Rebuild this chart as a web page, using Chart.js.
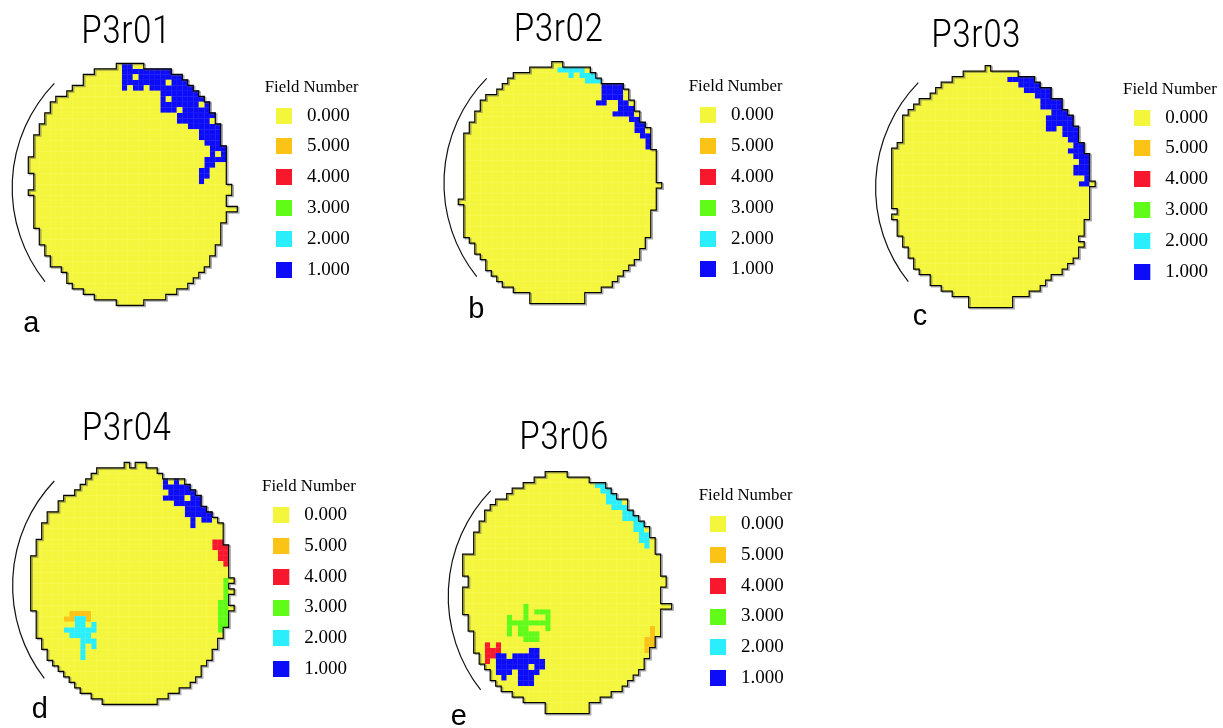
<!DOCTYPE html>
<html><head><meta charset="utf-8">
<script src="https://cdn.jsdelivr.net/npm/chart.js@4.4.1/dist/chart.umd.min.js"></script>
<style>
html,body{margin:0;padding:0;background:#fff;overflow:hidden;}
#wrap{position:relative;width:1223px;height:728px;overflow:hidden;background:#fff;}
#wrap canvas{position:absolute;}
</style></head><body><div id="wrap"></div>
<script>
// ---------- DATA ----------
const fieldLabels = ['0.000','5.000','4.000','3.000','2.000','1.000'];
const fieldValues = [0,5,4,3,2,1];
const fieldColors = {0:'#f4f63c',1:'#0c0cf8',2:'#2aeefb',3:'#60fb16',4:'#f8182e',5:'#fbc316'};
const panelTitles = ['P3r01','P3r02','P3r03','P3r04','P3r06'];
const panelLetters = ['a','b','c','d','e'];

// each map row: first and last occupied column
const rowStartA = [16,12,10,10,8,7,5,4,4,3,3,2,2,1,1,1,1,0,0,0,1,1,1,0,1,1,1,1,1,1,2,2,2,3,3,4,4,6,7,7,8,10,12,16];
const rowEndA   = [20,25,27,28,29,30,31,32,32,33,33,34,34,34,34,35,35,35,35,35,35,35,36,36,35,35,37,35,35,34,34,34,34,33,33,32,32,31,30,29,28,26,24,20];
// [row, firstCol, lastCol, field]
const patchesA = [[0,17,18,1],[1,17,25,1],[2,17,18,1],[2,20,27,1],[3,17,24,1],[3,26,28,1],[4,17,17,1],[4,19,20,1],[4,22,29,1],[5,24,30,1],[6,24,24,1],[6,26,31,1],[7,24,30,1],[7,32,32,1],[8,24,26,1],[8,28,32,1],[9,27,33,1],[10,27,32,1],[11,29,34,1],[12,31,34,1],[13,31,34,1],[14,32,34,1],[15,33,35,1],[16,33,33,1],[16,35,35,1],[17,32,35,1],[18,32,33,1],[19,31,32,1],[20,31,32,1],[21,31,31,1]];
const gapsA = [];

const rowStartB = [17,13,10,9,8,7,5,4,4,3,3,2,2,1,1,1,1,1,1,1,1,1,1,1,1,0,1,1,1,1,1,1,2,3,3,4,5,5,6,7,8,10,13,13];
const rowEndB   = [18,23,24,25,29,30,30,31,31,32,32,33,34,34,34,34,35,35,35,35,35,35,36,35,35,35,35,34,34,34,34,34,33,33,32,32,31,30,29,28,27,25,22,22];
const patchesB = [[1,18,22,2],[2,20,20,2],[2,22,24,2],[3,23,25,2],[4,26,29,1],[5,26,29,1],[6,26,29,1],[7,25,26,1],[7,29,30,1],[8,29,31,1],[9,28,31,1],[10,31,32,1],[11,32,33,1],[12,32,33,1],[13,33,34,1],[14,34,34,1],[15,34,34,1]];
const gapsB = [];

const rowStartC = [17,13,11,9,8,7,5,4,3,2,2,2,2,2,1,0,0,0,0,0,0,0,0,0,0,0,1,0,1,1,1,2,2,3,3,4,4,5,7,7,9,11,14,14];
const rowEndC   = [17,22,25,26,28,28,30,30,31,32,32,33,33,33,34,34,35,35,35,35,35,36,35,35,35,35,35,35,34,34,34,33,34,33,33,32,31,30,28,27,26,24,21,21];
const patchesC = [[2,21,25,1],[3,23,26,1],[4,24,28,1],[5,26,28,1],[6,27,30,1],[7,27,30,1],[8,29,31,1],[9,28,32,1],[10,28,32,1],[11,28,29,1],[11,31,33,1],[12,31,33,1],[13,32,33,1],[14,33,34,1],[15,32,34,1],[16,33,35,1],[17,34,35,1],[18,33,35,1],[19,33,35,1],[20,35,35,1],[21,34,35,1]];
const gapsC = [];

const rowStartD = [17,12,11,10,9,8,6,5,5,3,3,2,2,2,1,1,1,0,0,0,0,0,0,0,0,0,0,1,1,1,1,1,2,2,3,3,4,5,6,7,8,9,11,13];
const rowEndD   = [20,22,23,27,28,29,30,30,31,32,33,34,34,34,34,35,35,35,35,35,35,36,35,36,35,35,36,35,35,35,34,34,33,33,32,32,31,30,30,29,28,26,24,22];
const patchesD = [[3,24,24,1],[3,26,26,1],[4,24,28,1],[5,25,29,1],[6,24,27,1],[6,29,30,1],[7,26,30,1],[8,28,31,1],[9,28,32,1],[10,29,29,1],[10,31,32,1],[11,29,29,1],
  [14,33,34,4],[15,33,35,4],[16,34,35,4],[17,34,35,4],[18,35,35,4],
  [21,35,35,3],[22,35,35,3],[23,35,35,3],[24,35,35,3],[25,34,35,3],[26,34,35,3],[27,34,35,3],[28,34,35,3],[29,34,35,3],[30,34,34,3],
  [27,7,10,5],[28,6,7,5],[28,10,10,5],
  [28,8,9,2],[29,8,9,2],[29,11,11,2],[30,6,11,2],[31,7,10,2],[32,9,11,2],[33,9,9,2],[33,11,11,2],[34,9,9,2],[35,9,9,2]];
const gapsD = [[0,18,18]];

const rowStartE = [15,13,11,9,8,6,5,4,4,3,3,2,2,2,2,0,0,0,0,1,1,0,0,0,0,0,1,1,1,2,2,2,2,3,3,4,5,5,6,7,9,11,15,15];
const rowEndE   = [18,22,25,26,27,29,29,30,31,32,33,33,34,34,34,35,35,35,35,36,36,35,35,35,37,35,35,35,35,35,34,34,33,33,32,32,31,30,29,28,26,24,22,22];
const patchesE = [[2,24,25,2],[3,25,26,2],[4,26,27,2],[5,26,28,2],[6,27,29,2],[7,29,30,2],[8,29,31,2],[9,31,32,2],[10,31,32,2],[11,32,33,2],[12,32,33,2],[13,33,33,2],
  [24,11,11,3],[25,11,11,3],[25,13,15,3],[26,8,8,3],[26,11,11,3],[26,15,15,3],[27,8,15,3],[28,8,8,3],[28,10,11,3],[28,15,15,3],[29,8,8,3],[29,10,13,3],[30,11,13,3],
  [31,4,4,4],[31,6,6,4],[32,4,6,4],[33,4,5,4],[34,4,4,4],
  [32,12,13,1],[33,6,7,1],[33,9,13,1],[34,6,14,1],[35,6,11,1],[35,13,14,1],[36,6,8,1],[36,10,13,1],[37,7,7,1],[37,10,12,1],[38,10,12,1],
  [28,34,34,5],[29,34,34,5],[30,33,34,5],[31,33,34,5],[32,33,33,5]];
const gapsE = [];

// ---------- LAYOUT (page pixels / grid units) ----------
const CELL = 5.5;
const panelLayout = [
  {ox:28.3, oy:63.3, tx:126, ty:33.5, lx:276, ly:87.5, y0:0, h:350, letterAt:[-0.91,48.85], arc:[[4.73,3.64],[-2.91,21.53],[3.04,39.71]]},
  {ox:458.3, oy:61.7, tx:558.3, ty:31.5, lx:700, ly:87, y0:0, h:350, letterAt:[1.82,46.65], arc:[[5.16,3.02],[-2.6,21.5],[3.35,39.09]]},
  {ox:891.7, oy:65.7, tx:976, ty:37, lx:1134.3, ly:89.5, y0:0, h:350, letterAt:[3.82,47.15], arc:[[4.84,3.09],[-2.91,21.09],[3.02,39.27]]},
  {ox:30.7, oy:462.3, tx:126.7, ty:430.5, lx:273.3, ly:486.8, y0:390, h:338, letterAt:[0.18,46.5], arc:[[4.29,3.4],[-3.27,21.4],[2.47,39.27]]},
  {ox:462.7, oy:471.7, tx:563.8, ty:439.3, lx:710, ly:495.8, y0:390, h:338, letterAt:[-2.18,46.05], arc:[[5.09,3.45],[-2.62,23.33],[3.27,39.69]]}
];
const panelData = [
  [rowStartA,rowEndA,patchesA,gapsA],[rowStartB,rowEndB,patchesB,gapsB],[rowStartC,rowEndC,patchesC,gapsC],
  [rowStartD,rowEndD,patchesD,gapsD],[rowStartE,rowEndE,patchesE,gapsE]
];

const TITLE_FONT = "'Roboto Condensed', 'Liberation Sans Narrow', 'Liberation Sans', Arial, sans-serif";
const TITLE_SIZE = 39;
const SERIF = "'Liberation Serif', 'Times New Roman', serif";
const LEG_FONT = 19, LEG_PAD = 11.87, LEG_W = 94, LEG_TITLE = 16.8, BOX_W = 21;

// legend swatches: 16x16 square at the left of a 22px-wide transparent image
const swatches = fieldValues.map(v => {
  const c = document.createElement('canvas'); c.width = 22; c.height = 16;
  const x = c.getContext('2d'); x.fillStyle = fieldColors[v]; x.fillRect(0,0,16,16); return c;
});

function buildGrid(rs, re, patches, gaps){
  const cols = Math.max(...re) + 2;
  const g = rs.map((s,r) => { const row = new Array(cols).fill(-1); for(let c=s;c<=re[r];c++) row[c]=0; return row; });
  patches.forEach(([r,a,b,f]) => { for(let c=a;c<=b;c++) g[r][c]=f; });
  gaps.forEach(([r,a,b]) => { for(let c=a;c<=b;c++) g[r][c]=-1; });
  return g;
}

function circ(p1,p2,p3){
  const [ax,ay]=p1,[bx,by]=p2,[cx,cy]=p3;
  const d = 2*(ax*(by-cy)+bx*(cy-ay)+cx*(ay-by));
  const ux = ((ax*ax+ay*ay)*(by-cy)+(bx*bx+by*by)*(cy-ay)+(cx*cx+cy*cy)*(ay-by))/d;
  const uy = ((ax*ax+ay*ay)*(cx-bx)+(bx*bx+by*by)*(ax-cx)+(cx*cx+cy*cy)*(bx-ax))/d;
  return [ux,uy,Math.hypot(ax-ux,ay-uy)];
}

const wrap = document.getElementById('wrap');
panelLayout.forEach((L, i) => {
  const [rs, re, patches, gaps] = panelData[i];
  const grid = buildGrid(rs, re, patches, gaps);
  const legLeft = L.lx - LEG_PAD + (11 - BOX_W/2);
  const legRight = legLeft + LEG_W;
  const X0 = Math.round(2*L.tx - legRight);
  const W = Math.ceil(legRight - X0 + 6);
  const padR = X0 + W - legRight;
  const oxC = L.ox - X0, oyC = L.oy - L.y0;

  const canvas = document.createElement('canvas');
  canvas.width = W; canvas.height = L.h;
  canvas.style.left = X0 + 'px'; canvas.style.top = L.y0 + 'px';
  canvas.style.width = W + 'px'; canvas.style.height = L.h + 'px';
  wrap.appendChild(canvas);

  const datasets = [0,1,2,3,4,5].map(f => {
    const pts = [];
    grid.forEach((row, r) => row.forEach((v, c) => { if (v === f) pts.push({x: c + 0.5, y: r + 0.5}); }));
    return {label: 'Field ' + f, data: pts, pointStyle: 'rect', pointRadius: 4.08, pointHoverRadius: 4.08,
      pointBorderWidth: 0, backgroundColor: fieldColors[f], borderColor: fieldColors[f], showLine: false, clip: false};
  });

  const filled = (r, c) => r >= 0 && r < grid.length && c >= 0 && c < grid[r].length && grid[r][c] >= 0;

  const decor = {
    id: 'decor' + i,
    afterLayout(chart){
      const ca = chart.chartArea, xs = chart.scales.x, ys = chart.scales.y;
      xs.min = (ca.left - oxC) / CELL; xs.max = (ca.right - oxC) / CELL; xs.configure();
      ys.min = (ca.top - oyC) / CELL; ys.max = (ca.bottom - oyC) / CELL; ys.configure();
    },
    afterDatasetsDraw(chart){
      const ctx = chart.ctx, xs = chart.scales.x, ys = chart.scales.y;
      const X = c => xs.getPixelForValue(c), Y = r => ys.getPixelForValue(r);
      const edges = (dx, dy, color, w) => {
        ctx.beginPath();
        for (let r = 0; r < grid.length; r++) for (let c = 0; c < grid[r].length; c++) {
          if (!filled(r, c)) continue;
          if (!filled(r-1, c)) { ctx.moveTo(X(c)+dx, Y(r)+dy); ctx.lineTo(X(c+1)+dx, Y(r)+dy); }
          if (!filled(r+1, c)) { ctx.moveTo(X(c)+dx, Y(r+1)+dy); ctx.lineTo(X(c+1)+dx, Y(r+1)+dy); }
          if (!filled(r, c-1)) { ctx.moveTo(X(c)+dx, Y(r)+dy); ctx.lineTo(X(c)+dx, Y(r+1)+dy); }
          if (!filled(r, c+1)) { ctx.moveTo(X(c+1)+dx, Y(r)+dy); ctx.lineTo(X(c+1)+dx, Y(r+1)+dy); }
        }
        ctx.strokeStyle = color; ctx.lineWidth = w; ctx.lineCap = 'square'; ctx.stroke();
      };
      ctx.save();
      edges(1.5, 1.2, 'rgba(90,90,90,0.5)', 1.4);
      edges(0, 0, '#000', 1.2);
      ctx.restore();
    },
    afterDraw(chart){
      const ctx = chart.ctx, xs = chart.scales.x, ys = chart.scales.y;
      const P = p => [xs.getPixelForValue(p[0]), ys.getPixelForValue(p[1])];
      const a = P(L.arc[0]), b = P(L.arc[1]), c = P(L.arc[2]);
      const [cx, cy, R] = circ(a, b, c);
      let aTop = Math.atan2(a[1]-cy, a[0]-cx), aBot = Math.atan2(c[1]-cy, c[0]-cx);
      if (aTop < aBot) aTop += Math.PI*2;
      ctx.save();
      ctx.beginPath(); ctx.arc(cx, cy, R, aBot, aTop, false);
      ctx.strokeStyle = '#111'; ctx.lineWidth = 1.2; ctx.stroke();
      ctx.fillStyle = '#000'; ctx.font = "29px 'Liberation Sans', Arial, sans-serif";
      ctx.textBaseline = 'alphabetic'; ctx.textAlign = 'left';
      const lp = P(L.letterAt);
      ctx.fillText(panelLetters[i], lp[0], lp[1]);
      ctx.restore();
    }
  };

  new Chart(canvas, {
    type: 'scatter',
    data: {datasets},
    options: {
      responsive: false, animation: false, devicePixelRatio: 1, events: [],
      layout: {padding: {left: 0, right: padR, top: 0, bottom: 0}},
      scales: {
        x: {type: 'linear', display: false},
        y: {type: 'linear', display: false, reverse: true}
      },
      plugins: {
        tooltip: {enabled: false},
        title: {display: true, text: panelTitles[i], align: 'center', color: '#000',
          font: {family: TITLE_FONT, size: TITLE_SIZE, weight: 300, lineHeight: 1},
          padding: {top: L.ty - TITLE_SIZE/2 - L.y0, bottom: 0}},
        legend: {
          display: true, position: 'right', align: 'start', maxWidth: LEG_W, onClick: () => {},
          title: {display: true, text: 'Field Number', color: '#000',
            font: {family: SERIF, size: LEG_TITLE, weight: 'normal', lineHeight: 0.9},
            padding: {top: L.ly - LEG_TITLE/2 - L.y0, bottom: 0}},
          labels: {
            usePointStyle: true, pointStyleWidth: BOX_W, boxWidth: LEG_FONT, boxHeight: 16, padding: LEG_PAD, color: '#000',
            font: {family: SERIF, size: LEG_FONT, weight: 'normal'},
            generateLabels: () => fieldLabels.map((t, k) => ({
              text: t, pointStyle: swatches[k], fillStyle: fieldColors[fieldValues[k]],
              strokeStyle: 'rgba(0,0,0,0)', lineWidth: 0, hidden: false, fontColor: '#000', datasetIndex: k
            }))
          }
        }
      }
    },
    plugins: [decor]
  });
});
</script>
</body></html>
